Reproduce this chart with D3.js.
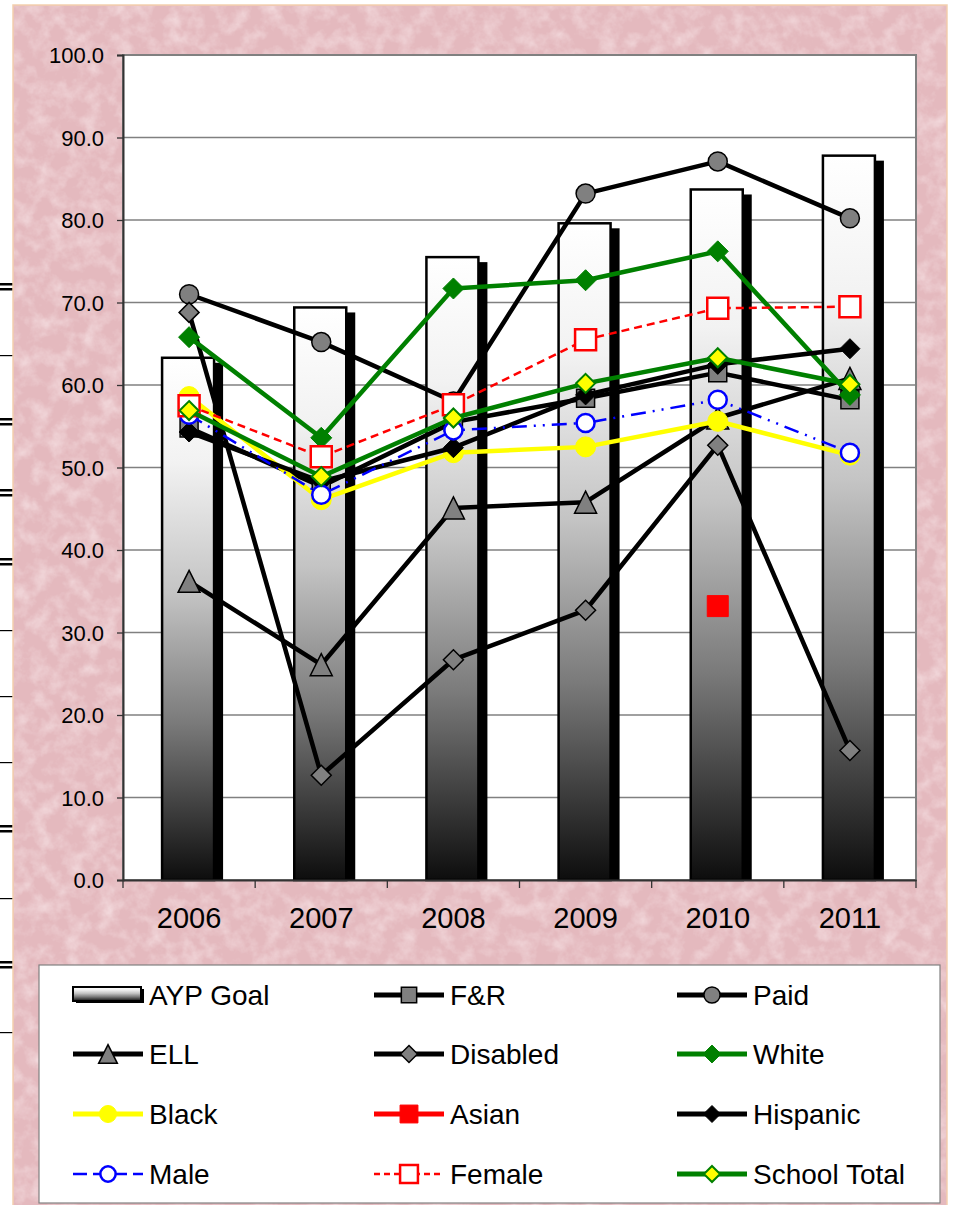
<!DOCTYPE html>
<html>
<head>
<meta charset="utf-8">
<script src="https://cdn.jsdelivr.net/npm/d3@7"></script>
<style>
  body { margin: 0; background: #fff; }
  text { font-family: "Liberation Sans", Arial, sans-serif; fill: #000; }
</style>
</head>
<body>
<div id="chart"></div>
<script>
// Data
const years = ["2006", "2007", "2008", "2009", "2010", "2011"];
const aypGoal = [63.3, 69.4, 75.5, 79.6, 83.7, 87.8];
const frLunch = [54.8, 47.7, 55.5, 58.4, 61.5, 58.2];
const paid = [71.0, 65.2, 58.0, 83.2, 87.1, 80.2];
const ell = [36.2, 26.1, 45.1, 45.8, 56.0, 60.8];
const disabled = [68.8, 12.7, 26.7, 32.7, 52.7, 15.7];
const white = [65.8, 53.6, 71.7, 72.7, 76.2, 58.8];
const black = [58.6, 46.1, 51.8, 52.5, 55.6, 51.5];
const asian = [null, null, null, null, 33.2, null];
const hispanic = [54.3, 48.3, 52.4, 58.8, 62.5, 64.4];
const male = [56.4, 46.7, 54.5, 55.4, 58.2, 51.8];
const female = [57.5, 51.3, 57.6, 65.5, 69.3, 69.5];
const schoolTotal = [56.9, 48.9, 56.0, 60.2, 63.3, 60.1];
const yTicks = [0, 10, 20, 30, 40, 50, 60, 70, 80, 90, 100];

// line + marker styling per series (drawing order = Excel series order)
const series = [
    { name: "F&R", values: frLunch, color: "#000", width: 4.5, marker: "square", size: 9, fill: "#808080", mstroke: "#000", mw: 1.5 },
    { name: "Paid", values: paid, color: "#000", width: 4.5, marker: "circle", size: 9.5, fill: "#808080", mstroke: "#000", mw: 1.5 },
    { name: "ELL", values: ell, color: "#000", width: 4.5, marker: "triangle", size: 11, fill: "#808080", mstroke: "#000", mw: 1.5 },
    { name: "Disabled", values: disabled, color: "#000", width: 4.5, marker: "diamond", size: 10, fill: "#808080", mstroke: "#000", mw: 1.5 },
    { name: "White", values: white, color: "#008000", width: 4.5, marker: "diamond", size: 10.5, fill: "#008000", mstroke: "#008000", mw: 1 },
    { name: "Black", values: black, color: "#ffff00", width: 4.5, marker: "circle", size: 10, fill: "#ffff00", mstroke: "#ffff00", mw: 1 },
    { name: "Asian", values: asian, color: "#ff0000", width: 4.5, marker: "square", size: 10.5, fill: "#ff0000", mstroke: "#ff0000", mw: 1 },
    { name: "Hispanic", values: hispanic, color: "#000", width: 4.5, marker: "diamond", size: 10, fill: "#000", mstroke: "#000", mw: 1 },
    { name: "Male", values: male, color: "#0000ff", width: 2.5, dash: "15,7,2,7,2,7", marker: "circle", size: 9, fill: "#fff", mstroke: "#0000ff", mw: 2.5 },
    { name: "Female", values: female, color: "#ff0000", width: 2.5, dash: "8,5", marker: "square", size: 10.5, fill: "#fff", mstroke: "#ff0000", mw: 2.5 },
    { name: "School Total", values: schoolTotal, color: "#008000", width: 4.5, marker: "diamond", size: 9.5, fill: "#ffff00", mstroke: "#008000", mw: 2 }
];

const W = 954, H = 1205;
const plot = { left: 123, top: 55, right: 916, bottom: 880 };

const svg = d3.select("#chart").append("svg")
    .attr("width", W).attr("height", H);

const defs = svg.append("defs");

// mottled pink paper texture
const tex = defs.append("filter").attr("id", "paper")
    .attr("x", 0).attr("y", 0).attr("width", 1).attr("height", 1);
tex.append("feTurbulence").attr("type", "fractalNoise")
    .attr("baseFrequency", 0.06).attr("numOctaves", 4).attr("seed", 7);
tex.append("feColorMatrix").attr("type", "matrix")
    .attr("values", "0 0 0 0 1  0 0 0 0 0.92  0 0 0 0 0.93  1.0 0 0 0 -0.4");

const grad = defs.append("linearGradient").attr("id", "barGrad")
    .attr("x1", 0).attr("y1", 0).attr("x2", 0).attr("y2", 1);
[[0, "#ffffff"], [0.2, "#f2f2f2"], [0.45, "#c4c4c4"], [0.7, "#7a7a7a"], [1, "#0d0d0d"]]
    .forEach(s => grad.append("stop").attr("offset", s[0]).attr("stop-color", s[1]));

// stray lines at the far left edge
const edge = svg.append("g");
[287, 422, 493, 562, 829, 965].forEach(y => {
    edge.append("rect").attr("x", 0).attr("y", y - 4).attr("width", 13).attr("height", 2.5).attr("fill", "#000");
    edge.append("rect").attr("x", 0).attr("y", y + 1).attr("width", 13).attr("height", 2.5).attr("fill", "#000");
});
[355, 630, 696, 762, 898, 1032].forEach(y => {
    edge.append("rect").attr("x", 0).attr("y", y).attr("width", 13).attr("height", 1.2).attr("fill", "#000");
});

// background panel
svg.append("rect").attr("x", 13).attr("y", 5).attr("width", 934).attr("height", 1205)
    .attr("fill", "#e4b9be").attr("stroke", "#f3cfae").attr("stroke-width", 1.5);
svg.append("rect").attr("x", 14).attr("y", 6).attr("width", 932).attr("height", 1199)
    .attr("filter", "url(#paper)");

// plot area
svg.append("rect").attr("x", plot.left).attr("y", plot.top)
    .attr("width", plot.right - plot.left).attr("height", plot.bottom - plot.top)
    .attr("fill", "#fff").attr("stroke", "#808080").attr("stroke-width", 2);

const x = d3.scaleBand().domain(years).range([plot.left, plot.right]);
const xBar = d3.scaleBand().domain(years).range([plot.left, plot.right])
    .paddingInner(0.6066).paddingOuter(0.3033);
const y = d3.scaleLinear().domain([0, 100]).range([plot.bottom, plot.top]);
const xc = d => x(d) + x.bandwidth() / 2;

// gridlines
svg.append("g").selectAll("line").data(yTicks.slice(1, -1)).join("line")
    .attr("x1", plot.left).attr("x2", plot.right)
    .attr("y1", d => y(d)).attr("y2", d => y(d))
    .attr("stroke", "#808080").attr("stroke-width", 1.3);

// AYP goal bars with drop shadow
const bars = svg.append("g");
bars.selectAll(".shadow").data(aypGoal).join("rect")
    .attr("class", "shadow")
    .attr("x", (d, i) => xBar(years[i]) - 1 + 9)
    .attr("y", d => y(d) + 5)
    .attr("width", xBar.bandwidth())
    .attr("height", d => plot.bottom - y(d) - 5)
    .attr("fill", "#000");
bars.selectAll(".bar").data(aypGoal).join("rect")
    .attr("class", "bar")
    .attr("x", (d, i) => xBar(years[i]) - 1)
    .attr("y", d => y(d))
    .attr("width", xBar.bandwidth())
    .attr("height", d => plot.bottom - y(d))
    .attr("fill", "url(#barGrad)")
    .attr("stroke", "#000").attr("stroke-width", 2.5);

// axes
const yAxis = svg.append("g").attr("transform", `translate(${plot.left},0)`)
    .call(d3.axisLeft(y).tickValues(yTicks).tickFormat(d3.format(".1f")).tickSize(6).tickPadding(13));
yAxis.select(".domain").attr("stroke", "#333").attr("stroke-width", 2);
yAxis.selectAll(".tick line").attr("stroke", "#333").attr("stroke-width", 1.3);
yAxis.selectAll("text").attr("font-size", 22).attr("dy", "0.36em");

const xAxis = svg.append("g").attr("transform", `translate(0,${plot.bottom})`)
    .call(d3.axisBottom(x).tickSize(0).tickPadding(27));
xAxis.select(".domain").attr("stroke", "#333").attr("stroke-width", 2);
xAxis.selectAll("text").attr("font-size", 29);
const bounds = years.map(d => x(d)).concat([plot.right]);
xAxis.append("g").selectAll("line").data(bounds).join("line")
    .attr("x1", d => d).attr("x2", d => d).attr("y1", 0).attr("y2", 8)
    .attr("stroke", "#333").attr("stroke-width", 1.3);

// markers
function markerPath(type, s) {
    if (type === "square") return `M${-s},${-s}h${2 * s}v${2 * s}h${-2 * s}Z`;
    if (type === "diamond") return `M0,${-s}L${s},0L0,${s}L${-s},0Z`;
    if (type === "triangle") return `M0,${-s}L${s},${s}L${-s},${s}Z`;
    return `M${-s},0A${s},${s} 0 1,0 ${s},0A${s},${s} 0 1,0 ${-s},0Z`;
}

const line = d3.line()
    .defined(d => d.v != null)
    .x(d => xc(d.year))
    .y(d => y(d.v));

series.forEach(s => {
    const pts = s.values.map((v, i) => ({ year: years[i], v: v }));
    const g = svg.append("g");
    g.append("path").datum(pts)
        .attr("d", line)
        .attr("fill", "none")
        .attr("stroke", s.color)
        .attr("stroke-width", s.width)
        .attr("stroke-dasharray", s.dash || null)
        .attr("stroke-linejoin", "round");
    g.selectAll(".m").data(pts.filter(d => d.v != null)).join("path")
        .attr("transform", d => `translate(${xc(d.year)},${y(d.v)})`)
        .attr("d", markerPath(s.marker, s.size))
        .attr("fill", s.fill)
        .attr("stroke", s.mstroke)
        .attr("stroke-width", s.mw);
});

// legend
const legend = svg.append("g");
legend.append("rect").attr("x", 39).attr("y", 965).attr("width", 901).attr("height", 238)
    .attr("fill", "#fff").attr("stroke", "#808080").attr("stroke-width", 1.2);

const legendItems = [{ name: "AYP Goal", bar: true }].concat(series);
const colX = [73, 374, 677];
const rowY = [995, 1054, 1114, 1174];

legendItems.forEach((s, i) => {
    const cx = colX[i % 3], cy = rowY[Math.floor(i / 3)];
    const g = legend.append("g").attr("transform", `translate(${cx},${cy})`);
    if (s.bar) {
        g.append("rect").attr("x", 3).attr("y", -6).attr("width", 68).attr("height", 14).attr("fill", "#000");
        g.append("rect").attr("x", 0).attr("y", -8).attr("width", 68).attr("height", 14)
            .attr("fill", "url(#barGrad)").attr("stroke", "#000").attr("stroke-width", 2);
    } else {
        g.append("line").attr("x1", 0).attr("x2", 70).attr("y1", 0).attr("y2", 0)
            .attr("stroke", s.color)
            .attr("stroke-width", s.dash ? 2.5 : 5)
            .attr("stroke-dasharray", s.dash ? (s.name === "Male" ? "14,6" : "6,4") : null);
        g.append("path").attr("transform", "translate(35,0)")
            .attr("d", markerPath(s.marker, s.size * 0.85))
            .attr("fill", s.fill).attr("stroke", s.mstroke).attr("stroke-width", s.mw);
    }
    g.append("text").attr("x", 76).attr("y", 10)
        .attr("font-size", 28)
        .text(s.name);
});
</script>
</body>
</html>
